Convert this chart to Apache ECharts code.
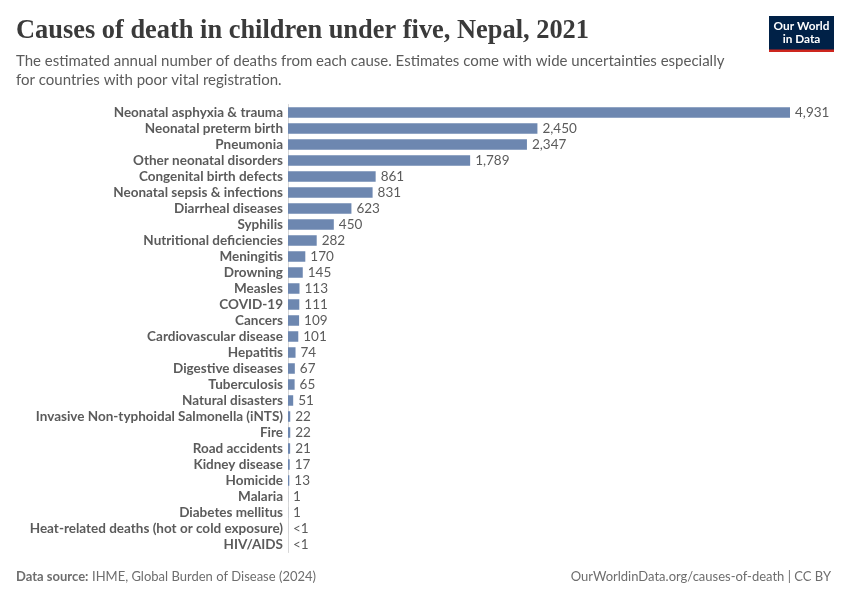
<!DOCTYPE html>
<html><head><meta charset="utf-8">
<style>html,body{margin:0;padding:0;background:#fff}#c{width:850px;height:600px}</style>
<script src="https://cdn.jsdelivr.net/npm/echarts@6/dist/echarts.min.js"></script>
</head><body><div id="c"></div>
<script>
const causes = ["Neonatal asphyxia & trauma","Neonatal preterm birth","Pneumonia","Other neonatal disorders","Congenital birth defects","Neonatal sepsis & infections","Diarrheal diseases","Syphilis","Nutritional deficiencies","Meningitis","Drowning","Measles","COVID-19","Cancers","Cardiovascular disease","Hepatitis","Digestive diseases","Tuberculosis","Natural disasters","Invasive Non-typhoidal Salmonella (iNTS)","Fire","Road accidents","Kidney disease","Homicide","Malaria","Diabetes mellitus","Heat-related deaths (hot or cold exposure)","HIV/AIDS"];
const deaths = [4931,2450,2347,1789,861,831,623,450,282,170,145,113,111,109,101,74,67,65,51,22,22,21,17,13,1,1,0.4,0.3];
const titleText = "Causes of death in children under five, Nepal, 2021";
const subtitleText = "The estimated annual number of deaths from each cause. Estimates come with wide uncertainties especially\nfor countries with poor vital registration.";
const sourceLabel = "Data source:";
const sourceText = "IHME, Global Burden of Disease (2024)";
const creditText = "OurWorldinData.org/causes-of-death | CC BY";

const chart = echarts.init(document.getElementById('c'), null, {renderer:'canvas'});
chart.setOption({
  animation:false,
  backgroundColor:'#fff',
  textStyle:{fontFamily:'Lato'},
  grid:{left:288,right:60,top:104.5,bottom:47.5,containLabel:false},
  xAxis:{type:'value',min:0,max:4931,show:false},
  yAxis:{type:'category',inverse:true,data:causes,
    axisLine:{show:true,lineStyle:{color:'#d8d8d8',width:1}},
    axisTick:{show:false},
    axisLabel:{interval:0,color:'#5b5b5b',fontFamily:'Lato',fontWeight:700,fontSize:13.5,margin:5}},
  series:[{type:'bar',data:deaths,barWidth:10.5,itemStyle:{color:'#6d87b0'},
    label:{show:true,position:'right',distance:5,color:'#5b5b5b',fontFamily:'Lato',fontSize:13.5,
      formatter:p=>p.value<1?'<1':p.value.toLocaleString('en-US')}}],
  graphic:[
    {type:'text',x:16,y:17,scaleX:0.96,style:{text:titleText,fontFamily:'Liberation Serif',fontWeight:700,fontSize:27.5,fill:'#3a3a3a'}},
    {type:'text',left:16,top:52,style:{text:subtitleText,fontFamily:'Lato',fontSize:15,lineHeight:19,fill:'#5b5b5b'}},
    {type:'group',left:769,top:16,children:[
      {type:'rect',shape:{x:0,y:0,width:65,height:36},style:{fill:'#002147'}},
      {type:'rect',shape:{x:0,y:33.4,width:65,height:2.6},style:{fill:'#ce261e'}},
      {type:'text',style:{x:32.5,y:4,text:'Our World\nin Data',align:'center',fontFamily:'Lato',fontWeight:700,fontSize:11.8,lineHeight:13,fill:'#fff'}}
    ]},
    {type:'text',left:16,top:570,style:{text:sourceLabel,fontFamily:'Lato',fontWeight:700,fontSize:13,fill:'#6e6e6e'}},
    {type:'text',left:92,top:570,style:{text:sourceText,fontFamily:'Lato',fontSize:13,fill:'#6e6e6e'}},
    {type:'text',right:19,top:570,style:{text:creditText,fontFamily:'Lato',fontSize:13,fill:'#6e6e6e'}}
  ]
});
</script></body></html>
